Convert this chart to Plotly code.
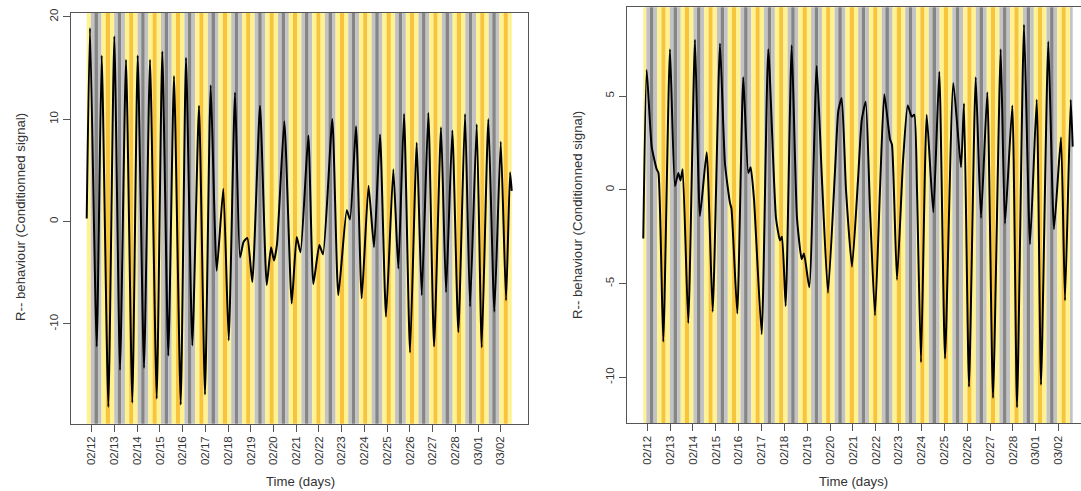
import plotly.graph_objects as go

# ---------------- data ----------------
day_ticks = list(range(19))
day_labels = ["02/12", "02/13", "02/14", "02/15", "02/16", "02/17", "02/18",
              "02/19", "02/20", "02/21", "02/22", "02/23", "02/24", "02/25",
              "02/26", "02/27", "02/28", "03/01", "03/02"]

# left panel: time (days since 02/12 00:00) and conditioned signal
left_t = [-0.220, -0.075, 0.220, 0.440, 0.731, 0.995, 1.246, 1.510, 1.787, 2.025,
          2.302, 2.566, 2.861, 3.107, 3.371, 3.622, 3.917, 4.150, 4.428, 4.722,
          4.986, 5.237, 5.501, 5.792, 6.029, 6.307, 6.527, 6.681, 6.848, 7.068,
          7.407, 7.702, 7.891, 8.023, 8.155, 8.477, 8.802, 9.022, 9.189, 9.533,
          9.753, 10.017, 10.180, 10.589, 10.853, 11.223, 11.368, 11.632, 11.883, 12.182,
          12.424, 12.688, 12.952, 13.273, 13.493, 13.744, 14.008, 14.304, 14.524, 14.814,
          15.065, 15.373, 15.593, 15.870, 16.134, 16.429, 16.649, 16.944, 17.164, 17.455,
          17.719, 18.001, 18.234, 18.410, 18.484]
left_v = [0.3, 18.9, -12.2, 16.2, -18.1, 18.1, -14.5, 15.8, -17.7, 16.2,
          -14.3, 15.8, -17.3, 16.6, -13.1, 14.2, -17.9, 16.0, -12.1, 11.3,
          -16.9, 13.3, -4.8, 3.2, -11.6, 12.6, -3.5, -2.0, -1.6, -5.9,
          11.3, -6.2, -2.5, -3.8, -2.2, 9.8, -8.0, -1.5, -3.0, 8.4,
          -6.1, -2.3, -3.2, 10.0, -7.2, 1.1, 0.2, 9.3, -7.5, 3.5,
          -2.5, 8.5, -9.3, 5.1, -4.6, 10.5, -12.8, 7.7, -7.2, 10.6,
          -12.2, 9.2, -6.9, 8.9, -10.8, 10.5, -8.3, 9.5, -12.3, 10.0,
          -8.8, 7.8, -7.7, 4.8, 3.0]

# right panel
right_t = [-0.175, -0.026, 0.193, 0.411, 0.490, 0.700, 0.993, 1.212, 1.357, 1.453,
           1.549, 1.794, 2.088, 2.306, 2.600, 2.862, 3.182, 3.400, 3.619, 3.685,
           3.939, 4.201, 4.420, 4.525, 4.670, 5.007, 5.295, 5.632, 5.808, 5.895,
           6.057, 6.320, 6.551, 6.757, 6.858, 7.090, 7.414, 7.646, 7.908, 8.215,
           8.359, 8.508, 8.696, 8.959, 9.221, 9.383, 9.558, 9.746, 9.965, 10.184,
           10.372, 10.622, 10.709, 10.928, 11.191, 11.396, 11.571, 11.685, 11.803, 11.978,
           12.228, 12.517, 12.779, 13.029, 13.392, 13.729, 13.860, 14.079, 14.372, 14.604,
           14.880, 15.129, 15.466, 15.654, 15.974, 16.180, 16.486, 16.749, 17.042, 17.230,
           17.549, 17.799, 18.105, 18.280, 18.530, 18.617]
right_v = [-2.6, 6.4, 2.3, 1.1, 0.9, -8.1, 7.5, 0.2, 0.9, 0.5,
           1.1, -7.1, 8.0, -1.4, 2.0, -6.5, 7.8, 1.4, -0.7, -1.0,
           -6.6, 6.0, 0.9, 1.2, -0.5, -7.7, 7.5, -1.5, -2.7, -2.5,
           -6.2, 7.7, -1.5, -3.7, -3.4, -5.2, 6.6, 0.5, -5.5, 1.0,
           4.2, 4.9, 0.0, -4.1, 0.5, 3.7, 4.7, -1.0, -6.7, 0.0,
           5.1, 2.7, 2.4, -4.8, 1.5, 4.5, 3.9, 4.0, 0.0, -9.2,
           4.0, -1.2, 6.3, -9.0, 5.7, 1.2, 4.6, -10.5, 6.0, -1.5,
           5.2, -11.1, 7.5, -1.8, 4.5, -11.6, 8.8, -2.9, 4.8, -10.4,
           7.9, -2.1, 2.8, -5.9, 4.8, 2.3]

# background cycles (start of each grey phase, days) and cycle length
cycle_starts = [-1.07, -0.04, 0.99, 2.02, 3.05, 4.08, 5.11, 6.14, 7.17, 8.20,
                9.23, 10.26, 11.29, 12.32, 13.35, 14.38, 15.41, 16.44, 17.47, 18.50]
cycle_len = 1.03

left_yticks = [-10, 0, 10, 20]
right_yticks = [-10, -5, 0, 5]

# ---------------- styling ----------------
FONT = "Liberation Sans, Arial, sans-serif"
LGRAY, DGRAY = "#c3c3c3", "#858585"
PALE, ORANGE = "#fff290", "#f7c43c"
grey_frac = 0.46
band_parts = [(grey_frac / 3, LGRAY), (grey_frac / 3, DGRAY), (grey_frac / 3, LGRAY),
              ((1 - grey_frac) / 3, PALE), ((1 - grey_frac) / 3, ORANGE), ((1 - grey_frac) / 3, PALE)]


def band_shapes(xref, yref, t0, t1):
    shapes = []
    for g in cycle_starts:
        pos = g
        for frac, col in band_parts:
            a, b = pos, pos + frac * cycle_len
            pos = b
            a2, b2 = max(a, t0), min(b, t1)
            if b2 > a2:
                shapes.append(dict(type="rect", xref=xref, yref=yref + " domain",
                                   x0=a2, x1=b2, y0=0, y1=1, fillcolor=col,
                                   line=dict(width=0), layer="below"))
    return shapes


fig = go.Figure()
fig.add_trace(go.Scatter(x=left_t, y=left_v, mode="lines", xaxis="x", yaxis="y",
                         line=dict(color="black", width=2, shape="spline", smoothing=0.5),
                         hoverinfo="skip", showlegend=False))
fig.add_trace(go.Scatter(x=right_t, y=right_v, mode="lines", xaxis="x2", yaxis="y2",
                         line=dict(color="black", width=2, shape="spline", smoothing=0.5),
                         hoverinfo="skip", showlegend=False))

W, H = 1081, 491
axis_common = dict(showgrid=False, zeroline=False, showline=True, linecolor="#555555",
                   linewidth=1, ticks="outside", ticklen=7, tickcolor="#555555",
                   tickfont=dict(family=FONT, size=11.5, color="#333333"),
                   tickangle=-90, automargin=False)

fig.update_layout(
    width=W, height=H, margin=dict(l=0, r=0, t=0, b=0),
    paper_bgcolor="white", plot_bgcolor="white",
    font=dict(family=FONT),
    xaxis=dict(domain=[70.7 / W, 528 / W], range=[-0.924, 19.20], anchor="y",
               tickvals=day_ticks, ticktext=day_labels, mirror=True, **axis_common),
    yaxis=dict(domain=[(H - 423.7) / H, (H - 12.7) / H], range=[-19.74, 20.39], anchor="x",
               tickvals=left_yticks, ticktext=[str(v) for v in left_yticks], mirror=True,
               **axis_common),
    xaxis2=dict(domain=[626.7 / W, 1.0], range=[-0.90, 18.98], anchor="y2",
                tickvals=day_ticks, ticktext=day_labels, mirror=True, **axis_common),
    yaxis2=dict(domain=[(H - 423.3) / H, (H - 7.3) / H], range=[-12.45, 9.73], anchor="x2",
                tickvals=right_yticks, ticktext=[str(v) for v in right_yticks], mirror=False,
                **axis_common),
    shapes=band_shapes("x", "y", left_t[0], left_t[-1]) + band_shapes("x2", "y2", right_t[0], right_t[-1]),
)

title_font = dict(family=FONT, size=13.2, color="#333333")
ytitle = "R-- behaviour (Conditionned signal)"
fig.add_annotation(text="Time (days)", xref="paper", yref="paper", x=300 / W, y=(H - 481) / H,
                   showarrow=False, font=title_font, xanchor="center", yanchor="middle")
fig.add_annotation(text="Time (days)", xref="paper", yref="paper", x=853 / W, y=(H - 481) / H,
                   showarrow=False, font=title_font, xanchor="center", yanchor="middle")
fig.add_annotation(text=ytitle, xref="paper", yref="paper", x=20 / W, y=(H - 217) / H,
                   showarrow=False, font=title_font, textangle=-90, xanchor="center", yanchor="middle")
fig.add_annotation(text=ytitle, xref="paper", yref="paper", x=578 / W, y=(H - 215) / H,
                   showarrow=False, font=title_font, textangle=-90, xanchor="center", yanchor="middle")

fig.write_html("out.html", config={"displayModeBar": False},
               post_script="document.body.style.margin='0px';document.body.style.padding='0px';")
